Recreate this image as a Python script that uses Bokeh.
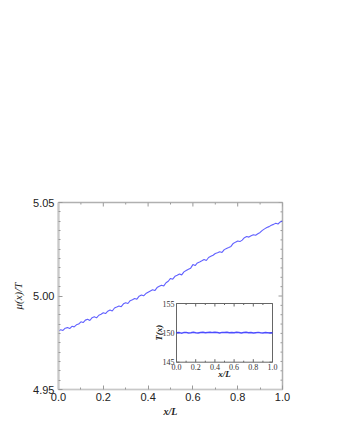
import numpy as np
from bokeh.plotting import figure
from bokeh.models import Range1d, FixedTicker, PrintfTickFormatter
from bokeh.core.properties import value
from bokeh.embed import file_html
from bokeh.resources import INLINE

# ---------------- data ----------------
x_main = np.linspace(0.0, 1.0, 101)
mu_over_T = [
    4.9812, 4.9820, 4.9816, 4.9828, 4.9831, 4.9826, 4.9838, 4.9835, 4.9846, 4.9850,
    4.9862, 4.9858, 4.9871, 4.9876, 4.9869, 4.9884, 4.9889, 4.9883, 4.9897, 4.9902,
    4.9910, 4.9906, 4.9919, 4.9925, 4.9920, 4.9936, 4.9941, 4.9947, 4.9943, 4.9958,
    4.9964, 4.9960, 4.9975, 4.9980, 4.9987, 4.9983, 4.9999, 5.0005, 5.0001, 5.0013,
    5.0020, 5.0027, 5.0033, 5.0029, 5.0045, 5.0052, 5.0058, 5.0054, 5.0071, 5.0079,
    5.0094, 5.0090, 5.0105, 5.0111, 5.0118, 5.0113, 5.0129, 5.0136, 5.0143, 5.0149,
    5.0168, 5.0163, 5.0177, 5.0182, 5.0188, 5.0195, 5.0190, 5.0206, 5.0212, 5.0218,
    5.0227, 5.0231, 5.0237, 5.0233, 5.0248, 5.0254, 5.0259, 5.0265, 5.0281, 5.0288,
    5.0294, 5.0291, 5.0299, 5.0312, 5.0318, 5.0315, 5.0322, 5.0328, 5.0325, 5.0333,
    5.0340, 5.0351, 5.0359, 5.0366, 5.0371, 5.0378, 5.0383, 5.0389, 5.0385, 5.0396,
    5.0401,
]

x_inset = np.linspace(0.0, 1.0, 41)
T_of_x = [
    150.00, 150.06, 149.95, 150.04, 150.08, 149.97, 150.03, 150.10, 150.02, 149.96,
    150.05, 150.09, 150.01, 150.07, 150.12, 150.04, 150.10, 150.06, 149.99, 150.08,
    150.05, 150.11, 150.03, 150.07, 150.00, 150.09, 150.04, 149.98, 150.06, 150.10,
    150.02, 150.05, 149.97, 150.03, 150.08, 150.01, 149.99, 150.04, 150.00, 149.96,
    150.02,
]

main_xticks = [0.0, 0.2, 0.4, 0.6, 0.8, 1.0]
main_xminor = [0.1, 0.3, 0.5, 0.7, 0.9]
main_yticks = [4.95, 5.00, 5.05]
main_yminor = [4.955, 4.96, 4.965, 4.97, 4.975, 4.98, 4.985, 4.99, 4.995,
               5.005, 5.01, 5.015, 5.02, 5.025, 5.03, 5.035, 5.04, 5.045]
inset_xticks = [0.0, 0.2, 0.4, 0.6, 0.8, 1.0]
inset_xtick_labels = ["0.0", "0.2", "0.4", "0.6", "0.8", "1.0"]
inset_xminor = [0.1, 0.3, 0.5, 0.7, 0.9]
inset_yticks = [145, 150, 155]
inset_ytick_labels = ["145", "150", "155"]

# ---------------- layout constants ----------------
W, H = 324, 424
BL, BT = 58, 202
FW, FH = 224, 187
BR, BB = W - BL - FW, H - BT - FH
# inset frame in px relative to main frame (left, right, top, bottom)
IL, IR, IT, IB = 118.0, 214.0, 101.0, 159.7
ix0, ix1 = 0.0, 1.0
iy0, iy1 = 145.0, 155.0
sx = (IR - IL) / (ix1 - ix0)
sy = (IB - IT) / (iy1 - iy0)
inset_xr = Range1d(ix0 - IL / sx, ix0 + (FW - IL) / sx)
inset_yr = Range1d(iy0 - (FH - IB) / sy, iy1 + IT / sy)

mx0, mx1 = 0.0, 1.0
my0, my1 = 4.95, 5.05
msx = FW / (mx1 - mx0)
msy = FH / (my1 - my0)

LINE = "#3a3aff"
FRAME = "#9a9a9a"
IFRAME = "#666666"

p = figure(width=W, height=H, output_backend="svg", toolbar_location=None,
           x_range=Range1d(mx0, mx1), y_range=Range1d(my0, my1),
           min_border_left=BL, min_border_right=BR,
           min_border_top=BT, min_border_bottom=BB)
p.extra_x_ranges = {"inset": inset_xr}
p.extra_y_ranges = {"inset": inset_yr}
p.grid.visible = False
p.outline_line_color = "#b0b0b0"
p.outline_line_width = 1.5
p.background_fill_color = "white"
p.border_fill_color = "white"

for ax in (p.xaxis[0], p.yaxis[0]):
    ax.major_tick_in = 4
    ax.major_tick_out = 0
    ax.minor_tick_in = 2
    ax.minor_tick_out = 0
    ax.major_tick_line_color = FRAME
    ax.minor_tick_line_color = FRAME
    ax.axis_line_color = "#c8c8c8"
    ax.major_label_text_font = "Liberation Sans"
    ax.major_label_text_font_size = "11px"
    ax.major_label_text_color = "#222222"
    ax.axis_label_text_font = "Liberation Serif"
    ax.axis_label_text_font_style = "italic"
    ax.axis_label_text_color = "#222222"

p.xaxis[0].ticker = FixedTicker(ticks=main_xticks, minor_ticks=main_xminor)
p.xaxis[0].formatter = PrintfTickFormatter(format="%.1f")
p.xaxis[0].major_label_standoff = 3
p.xaxis[0].axis_label = "x/L"
p.xaxis[0].axis_label_text_font_style = "bold italic"
p.xaxis[0].axis_label_text_font_size = "10px"
p.xaxis[0].axis_label_standoff = 2
p.xaxis[0].axis_line_width = 1

p.yaxis[0].ticker = FixedTicker(ticks=main_yticks, minor_ticks=main_yminor)
p.yaxis[0].formatter = PrintfTickFormatter(format="%.2f")
p.yaxis[0].major_label_standoff = 4
p.yaxis[0].axis_label = "μ(x)/T"
p.yaxis[0].axis_label_text_font_size = "11px"
p.yaxis[0].axis_label_standoff = 6
p.yaxis[0].axis_line_width = 2

# mirrored inward ticks on the right and top edges
def vticks(xs, y_edge, length_px, sign):
    p.segment(x0=xs, y0=[y_edge] * len(xs), x1=xs,
              y1=[y_edge + sign * length_px / msy] * len(xs), line_color=FRAME)

def hticks(ys, x_edge, length_px, sign):
    p.segment(x0=[x_edge] * len(ys), y0=ys, x1=[x_edge + sign * length_px / msx] * len(ys),
              y1=ys, line_color=FRAME)

vticks(main_xticks, my1, 4, -1)
vticks(main_xminor, my1, 2, -1)
hticks(main_yticks, mx1, 4, -1)
hticks(main_yminor, mx1, 2, -1)

# main curve
p.line(x_main, mu_over_T, line_color=LINE, line_width=1.1, line_alpha=0.8)

# ---------------- inset ----------------
R = dict(x_range_name="inset", y_range_name="inset")
p.quad(left=[ix0], right=[ix1], bottom=[iy0], top=[iy1], fill_color="white",
       line_color=IFRAME, line_width=1, **R)

tkx = 3.0 / sx
tky = 3.0 / sy
my_ = 1.5 / sy
p.segment(x0=inset_xticks, y0=[iy0] * len(inset_xticks), x1=inset_xticks,
          y1=[iy0 + tky] * len(inset_xticks), line_color=IFRAME, **R)
p.segment(x0=inset_xticks, y0=[iy1] * len(inset_xticks), x1=inset_xticks,
          y1=[iy1 - tky] * len(inset_xticks), line_color=IFRAME, **R)
p.segment(x0=inset_xminor, y0=[iy0] * len(inset_xminor), x1=inset_xminor,
          y1=[iy0 + my_] * len(inset_xminor), line_color=IFRAME, **R)
p.segment(x0=inset_xminor, y0=[iy1] * len(inset_xminor), x1=inset_xminor,
          y1=[iy1 - my_] * len(inset_xminor), line_color=IFRAME, **R)
p.segment(x0=[ix0] * len(inset_yticks), y0=inset_yticks, x1=[ix0 + tkx] * len(inset_yticks),
          y1=inset_yticks, line_color=IFRAME, **R)
p.segment(x0=[ix1] * len(inset_yticks), y0=inset_yticks, x1=[ix1 - tkx] * len(inset_yticks),
          y1=inset_yticks, line_color=IFRAME, **R)

p.line(x_inset, T_of_x, line_color=LINE, line_width=1.5, line_alpha=0.9, **R)

p.text(x=inset_xticks, y=[iy0] * len(inset_xticks), text=inset_xtick_labels,
       text_font=value("Liberation Serif"), text_font_size="8px",
       text_align="center", text_baseline="top", y_offset=2,
       text_color="#333333", **R)
p.text(x=[ix0] * len(inset_yticks), y=inset_yticks, text=inset_ytick_labels,
       text_font=value("Liberation Serif"), text_font_size="8px",
       text_align="right", text_baseline="middle", x_offset=-2,
       text_color="#333333", **R)
p.text(x=[0.5 * (ix0 + ix1)], y=[iy0], text=["x/L"],
       text_font=value("Liberation Serif"), text_font_style="bold italic",
       text_font_size="9px", text_align="center", text_baseline="middle",
       y_offset=12, text_color="#222222", **R)
p.text(x=[ix0], y=[0.5 * (iy0 + iy1)], text=["T(x)"],
       text_font=value("Liberation Serif"), text_font_style="bold italic",
       text_font_size="9px", text_align="center", text_baseline="middle",
       x_offset=-18, angle=np.pi / 2, text_color="#222222", **R)

open("out.html", "w").write(file_html(p, INLINE))
